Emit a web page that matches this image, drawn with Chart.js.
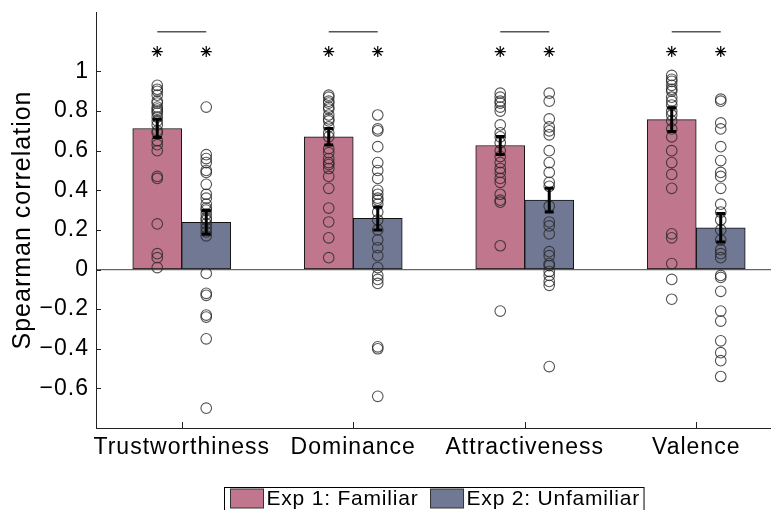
<!DOCTYPE html>
<html>
<head>
<meta charset="utf-8">
<script src="https://cdn.jsdelivr.net/npm/chart.js@4/dist/chart.umd.min.js"></script>
<style>
  html, body { margin: 0; padding: 0; background: #fff; }
  #chart { display: block; }
</style>
</head>
<body>
<canvas id="chart" width="771" height="510"></canvas>
<script>
// Trait categories along the x axis
const categories = ['Trustworthiness', 'Dominance', 'Attractiveness', 'Valence'];

// Group means and standard errors
const familiarMean = [0.712, 0.670, 0.626, 0.757];
const familiarSem = [0.046, 0.042, 0.045, 0.060];
const unfamiliarMean = [0.238, 0.258, 0.350, 0.211];
const unfamiliarSem = [0.060, 0.058, 0.060, 0.072];

// Individual participant correlations
const trustFamiliar = [0.93, 0.91, 0.90, 0.88, 0.85, 0.84, 0.82, 0.81, 0.80, 0.79, 0.77, 0.75, 0.73, 0.70, 0.69, 0.65, 0.63, 0.60, 0.47, 0.46, 0.23, 0.08, 0.06, 0.01];
const trustUnfamiliar = [0.82, 0.58, 0.56, 0.54, 0.50, 0.49, 0.43, 0.38, 0.36, 0.33, 0.31, 0.30, 0.28, 0.26, 0.25, 0.23, 0.21, 0.19, 0.17, -0.02, -0.12, -0.13, -0.23, -0.24, -0.35, -0.70];
const dominanceFamiliar = [0.88, 0.87, 0.85, 0.84, 0.82, 0.81, 0.78, 0.76, 0.75, 0.72, 0.69, 0.67, 0.61, 0.59, 0.56, 0.54, 0.53, 0.51, 0.47, 0.41, 0.31, 0.24, 0.16, 0.06];
const dominanceUnfamiliar = [0.78, 0.71, 0.70, 0.62, 0.54, 0.50, 0.46, 0.40, 0.38, 0.36, 0.35, 0.33, 0.29, 0.25, 0.20, 0.15, 0.11, 0.07, 0.01, -0.03, -0.05, -0.07, -0.39, -0.40, -0.64];
const attractivenessFamiliar = [0.89, 0.87, 0.85, 0.84, 0.82, 0.80, 0.73, 0.69, 0.67, 0.64, 0.60, 0.57, 0.54, 0.51, 0.49, 0.46, 0.44, 0.38, 0.35, 0.34, 0.12, -0.21];
const attractivenessUnfamiliar = [0.89, 0.85, 0.76, 0.72, 0.70, 0.68, 0.60, 0.54, 0.49, 0.44, 0.42, 0.32, 0.24, 0.22, 0.18, 0.09, 0.07, 0.03, 0.02, -0.01, -0.03, -0.06, -0.08, -0.49];
const valenceFamiliar = [0.98, 0.96, 0.95, 0.93, 0.91, 0.90, 0.87, 0.85, 0.83, 0.80, 0.78, 0.75, 0.71, 0.67, 0.60, 0.54, 0.48, 0.41, 0.18, 0.16, 0.03, -0.05, -0.15];
const valenceUnfamiliar = [0.86, 0.85, 0.74, 0.71, 0.62, 0.55, 0.49, 0.47, 0.41, 0.33, 0.29, 0.25, 0.20, 0.15, 0.10, 0.08, 0.06, -0.03, -0.04, -0.11, -0.21, -0.26, -0.36, -0.42, -0.46, -0.54];

// Y axis tick values
const yTicks = [-0.6, -0.4, -0.2, 0, 0.2, 0.4, 0.6, 0.8, 1];

// Significance markers: comparison bracket height and star height
const bracketLevel = 1.2;
const starLevel = 1.1;

const seriesLabels = ['Exp 1: Familiar', 'Exp 2: Unfamiliar'];
const familiarPoints = [trustFamiliar, dominanceFamiliar, attractivenessFamiliar, valenceFamiliar];
const unfamiliarPoints = [trustUnfamiliar, dominanceUnfamiliar, attractivenessUnfamiliar, valenceUnfamiliar];

// Layout constants (in category units): half a bar width
const HALF = 1 / 7;
const FONT = "'Liberation Sans', Arial, Helvetica, sans-serif";
const FAMILIAR_COLOR = '#C0778D';
const UNFAMILIAR_COLOR = '#717894';

const xFam = i => i + 1 - HALF;
const xUnf = i => i + 1 + HALF;

function barData(means, xf) {
  return means.map((v, i) => ({ x: xf(i), y: v }));
}
function pointData(groups, xf) {
  const out = [];
  groups.forEach((vals, i) => vals.forEach(v => out.push({ x: xf(i), y: v })));
  return out;
}
const bracketData = [];
categories.forEach((c, i) => {
  bracketData.push({ x: xFam(i), y: bracketLevel });
  bracketData.push({ x: xUnf(i), y: bracketLevel });
  bracketData.push({ x: i + 1.5, y: null });
});
const starData = [];
categories.forEach((c, i) => {
  starData.push({ x: xFam(i), y: starLevel });
  starData.push({ x: xUnf(i), y: starLevel });
});

// Slightly wider glyph spacing for all canvas text
const spacingPlugin = {
  id: 'spacing',
  beforeUpdate(chart) { chart.ctx.letterSpacing = '1px'; },
  beforeDraw(chart) { chart.ctx.letterSpacing = '1px'; }
};

// Inward tick marks on both axes
const innerTicks = {
  id: 'innerTicks',
  afterDraw(chart) {
    const { ctx, chartArea: a, scales: { x, y } } = chart;
    ctx.save();
    ctx.strokeStyle = '#222';
    ctx.lineWidth = 1;
    ctx.beginPath();
    y.ticks.forEach(t => {
      const py = Math.round(y.getPixelForValue(t.value)) + 0.5;
      ctx.moveTo(a.left, py); ctx.lineTo(a.left + 5, py);
    });
    x.ticks.forEach(t => {
      const px = Math.round(x.getPixelForValue(t.value)) + 0.5;
      ctx.moveTo(px, a.bottom); ctx.lineTo(px, a.bottom - 6);
    });
    ctx.stroke();
    ctx.restore();
  }
};

// Standard-error bars on top of the bars and points
const errorBars = {
  id: 'errorBars',
  afterDatasetsDraw(chart) {
    const { ctx, scales: { x, y } } = chart;
    ctx.save();
    ctx.strokeStyle = '#000';
    ctx.lineWidth = 3;
    const draw = (cx, m, s) => {
      const px = x.getPixelForValue(cx);
      const top = y.getPixelForValue(m + s);
      const bot = y.getPixelForValue(m - s);
      ctx.beginPath();
      ctx.moveTo(px, top); ctx.lineTo(px, bot);
      ctx.moveTo(px - 4.5, top); ctx.lineTo(px + 4.5, top);
      ctx.moveTo(px - 4.5, bot); ctx.lineTo(px + 4.5, bot);
      ctx.stroke();
    };
    categories.forEach((c, i) => {
      draw(xFam(i), familiarMean[i], familiarSem[i]);
      draw(xUnf(i), unfamiliarMean[i], unfamiliarSem[i]);
    });
    ctx.restore();
  }
};

// Boxed legend below the axes
const boxLegend = {
  id: 'boxLegend',
  afterDraw(chart) {
    const { ctx, chartArea: a } = chart;
    const items = chart.data.datasets.filter(d => d.type === 'bar');
    ctx.save();
    ctx.letterSpacing = '0.8px';
    ctx.font = '21px ' + FONT;
    const sw = 33, sh = 19, gap = 3, between = 12, padL = 6, padR = 4;
    const widths = items.map(d => ctx.measureText(d.label).width);
    let total = padL + padR + between * (items.length - 1);
    widths.forEach(w => { total += sw + gap + w; });
    const left = Math.round((a.left + a.right) / 2 - total / 2) + 0.5;
    const top = 487.5;
    ctx.strokeStyle = '#000';
    ctx.lineWidth = 1;
    ctx.strokeRect(left, top, total, 28);
    let cx = left + padL;
    items.forEach((d, i) => {
      ctx.fillStyle = d.backgroundColor;
      ctx.fillRect(cx, top + 1.5, sw, sh);
      ctx.strokeStyle = '#333';
      ctx.strokeRect(cx, top + 1.5, sw, sh);
      ctx.fillStyle = '#000';
      ctx.textBaseline = 'middle';
      ctx.textAlign = 'left';
      ctx.fillText(d.label, cx + sw + gap, top + 12);
      cx += sw + gap + widths[i] + between;
    });
    ctx.restore();
  }
};

function noPadding(s) {
  s.paddingTop = 0; s.paddingBottom = 0; s.paddingLeft = 0; s.paddingRight = 0;
}

new Chart(document.getElementById('chart'), {
  type: 'bar',
  data: {
    datasets: [
      {
        type: 'bar', label: seriesLabels[0], data: barData(familiarMean, xFam),
        backgroundColor: FAMILIAR_COLOR, borderColor: '#111', borderWidth: 1, borderSkipped: false,
        grouped: false, categoryPercentage: 1, barPercentage: 1, order: 5
      },
      {
        type: 'bar', label: seriesLabels[1], data: barData(unfamiliarMean, xUnf),
        backgroundColor: UNFAMILIAR_COLOR, borderColor: '#111', borderWidth: 1, borderSkipped: false,
        grouped: false, categoryPercentage: 1, barPercentage: 1, order: 5
      },
      {
        type: 'scatter', label: 'familiar participants', data: pointData(familiarPoints, xFam),
        pointRadius: 5.3, pointBackgroundColor: 'rgba(0,0,0,0)', pointBorderColor: 'rgba(40,40,40,0.8)',
        pointBorderWidth: 1.1, order: 4
      },
      {
        type: 'scatter', label: 'unfamiliar participants', data: pointData(unfamiliarPoints, xUnf),
        pointRadius: 5.3, pointBackgroundColor: 'rgba(0,0,0,0)', pointBorderColor: 'rgba(40,40,40,0.8)',
        pointBorderWidth: 1.1, order: 4
      },
      {
        type: 'line', label: 'comparison', data: bracketData, spanGaps: false,
        borderColor: '#555', borderWidth: 1.5, pointRadius: 0, order: 2
      },
      {
        type: 'scatter', label: 'significance', data: starData, pointStyle: 'star',
        pointRadius: 5.5, pointBorderColor: '#000', pointBackgroundColor: '#000', pointBorderWidth: 1.2, order: 1
      }
    ]
  },
  options: {
    responsive: false,
    animation: false,
    events: [],
    layout: { autoPadding: false, padding: { top: 12, right: 0, bottom: 0, left: 0 } },
    plugins: { legend: { display: false }, tooltip: { enabled: false } },
    scales: {
      x: {
        type: 'linear', min: 0.5, max: 4.436, offset: false,
        afterBuildTicks: s => { s.ticks = categories.map((c, i) => ({ value: i + 1 })); },
        afterFit: s => { s.height = 82; noPadding(s); },
        grid: { display: false, drawTicks: false },
        border: { display: true, color: '#222', width: 1 },
        ticks: {
          autoSkip: false, maxRotation: 0, padding: 6, color: '#000',
          font: { family: FONT, size: 23 },
          callback: v => categories[Math.round(v) - 1] || ''
        }
      },
      y: {
        type: 'linear', min: -0.8, max: 1.3,
        afterBuildTicks: s => { s.ticks = yTicks.map(v => ({ value: v })); },
        afterFit: s => { s.width = 96; noPadding(s); },
        grid: {
          drawTicks: false,
          color: c => (c.tick && c.tick.value === 0 ? '#666' : 'rgba(0,0,0,0)'),
          lineWidth: 1.3
        },
        border: { display: true, color: '#222', width: 1 },
        title: {
          display: true, text: 'Spearman correlation', color: '#000',
          font: { family: FONT, size: 25, lineHeight: 1.2 }, padding: { top: 8, bottom: 0 }
        },
        ticks: {
          padding: 7, color: '#000',
          font: { family: FONT, size: 23 },
          callback: v => (v < 0 ? '\u2212' + String(Math.abs(v)) : String(v))
        }
      }
    }
  },
  plugins: [spacingPlugin, innerTicks, errorBars, boxLegend]
});
</script>
</body>
</html>
